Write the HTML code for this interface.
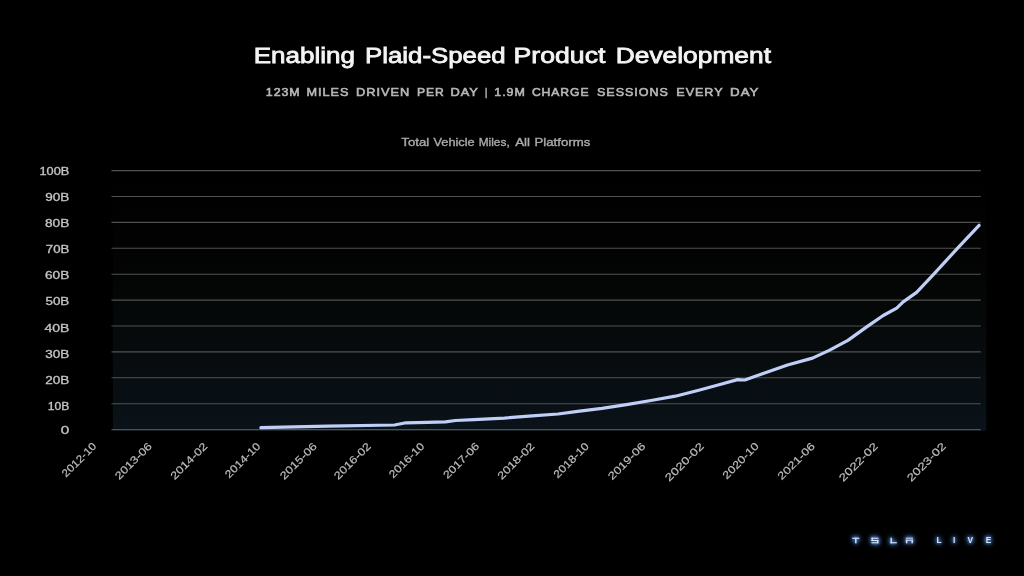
<!DOCTYPE html>
<html>
<head>
<meta charset="utf-8">
<title>Enabling Plaid-Speed Product Development</title>
<style>
  html, body { margin: 0; padding: 0; background: #000; }
  body { width: 1024px; height: 576px; overflow: hidden; font-family: "Liberation Sans", sans-serif; }
  svg { display: block; }
  text { font-family: "Liberation Sans", sans-serif; }
</style>
</head>
<body>
<svg width="1024" height="576" viewBox="0 0 1024 576">
  <defs>
    <linearGradient id="plotbg" x1="0" y1="0" x2="0" y2="1">
      <stop offset="0" stop-color="#000000"/>
      <stop offset="0.31" stop-color="#020302"/>
      <stop offset="0.5" stop-color="#040706"/>
      <stop offset="0.69" stop-color="#070b0d"/>
      <stop offset="0.88" stop-color="#080f14"/>
      <stop offset="1" stop-color="#0b131a"/>
    </linearGradient>
    <filter color-interpolation-filters="sRGB" id="soft" x="-5%" y="-5%" width="110%" height="110%">
      <feGaussianBlur stdDeviation="0.4"/>
    </filter>
    <filter color-interpolation-filters="sRGB" id="softl" x="-5%" y="-5%" width="110%" height="110%">
      <feGaussianBlur stdDeviation="0.32"/>
    </filter>
    <filter color-interpolation-filters="sRGB" id="softg" filterUnits="userSpaceOnUse" x="100" y="160" width="900" height="280">
      <feGaussianBlur stdDeviation="0.4"/>
    </filter>
  </defs>
  <rect x="0" y="0" width="1024" height="576" fill="#000"/>

  <!-- titles -->
  <g font-size="22.4" fill="#f4f4f4" stroke="#f4f4f4" stroke-width="0.8" letter-spacing="0" filter="url(#soft)">
    <text x="253.7" y="62.8" textLength="101.3" lengthAdjust="spacingAndGlyphs">Enabling</text>
    <text x="365.0" y="62.8" textLength="140.6" lengthAdjust="spacingAndGlyphs">Plaid-Speed</text>
    <text x="513.6" y="62.8" textLength="91.8" lengthAdjust="spacingAndGlyphs">Product</text>
    <text x="615.7" y="62.8" textLength="155.3" lengthAdjust="spacingAndGlyphs">Development</text>
  </g>
  <g font-size="11.8" fill="#b8b8b8" stroke="#b8b8b8" stroke-width="0.6" letter-spacing="0.9" filter="url(#soft)">
    <text x="265.8" y="95.8" textLength="34.8" lengthAdjust="spacingAndGlyphs">123M</text>
    <text x="306.5" y="95.8" textLength="42.9" lengthAdjust="spacingAndGlyphs">MILES</text>
    <text x="356.0" y="95.8" textLength="54.3" lengthAdjust="spacingAndGlyphs">DRIVEN</text>
    <text x="416.9" y="95.8" textLength="27.7" lengthAdjust="spacingAndGlyphs">PER</text>
    <text x="450.5" y="95.8" textLength="28.4" lengthAdjust="spacingAndGlyphs">DAY</text>
    <text x="485.1" y="95.8" textLength="3.0" lengthAdjust="spacingAndGlyphs">|</text>
    <text x="494.3" y="95.8" textLength="31.5" lengthAdjust="spacingAndGlyphs">1.9M</text>
    <text x="531.9" y="95.8" textLength="57.6" lengthAdjust="spacingAndGlyphs">CHARGE</text>
    <text x="597.0" y="95.8" textLength="71.8" lengthAdjust="spacingAndGlyphs">SESSIONS</text>
    <text x="676.3" y="95.8" textLength="47.2" lengthAdjust="spacingAndGlyphs">EVERY</text>
    <text x="730.1" y="95.8" textLength="29.4" lengthAdjust="spacingAndGlyphs">DAY</text>
  </g>
  <g font-size="11.0" fill="#ababab" stroke="#ababab" stroke-width="0.35" letter-spacing="0" filter="url(#soft)">
    <text x="401.3" y="146.4" textLength="27.9" lengthAdjust="spacingAndGlyphs">Total</text>
    <text x="433.5" y="146.4" textLength="41.2" lengthAdjust="spacingAndGlyphs">Vehicle</text>
    <text x="478.7" y="146.4" textLength="31.0" lengthAdjust="spacingAndGlyphs">Miles,</text>
    <text x="515.2" y="146.4" textLength="14.9" lengthAdjust="spacingAndGlyphs">All</text>
    <text x="534.5" y="146.4" textLength="55.8" lengthAdjust="spacingAndGlyphs">Platforms</text>
  </g>

  <!-- plot background -->
  <rect x="112.9" y="170" width="873.4" height="260.8" fill="url(#plotbg)"/>

  <!-- grid -->
  <g id="grid" stroke="#4e5353" stroke-width="1.1" filter="url(#softg)">
    <line x1="111.5" x2="980.8" y1="170.6" y2="170.6"/>
    <line x1="111.5" x2="980.8" y1="196.5" y2="196.5"/>
    <line x1="111.5" x2="980.8" y1="222.4" y2="222.4"/>
    <line x1="111.5" x2="980.8" y1="248.3" y2="248.3"/>
    <line x1="111.5" x2="980.8" y1="274.2" y2="274.2"/>
    <line x1="111.5" x2="980.8" y1="300.1" y2="300.1"/>
    <line x1="111.5" x2="980.8" y1="326.0" y2="326.0"/>
    <line x1="111.5" x2="980.8" y1="351.9" y2="351.9"/>
    <line x1="111.5" x2="980.8" y1="377.8" y2="377.8"/>
    <line x1="111.5" x2="980.8" y1="403.7" y2="403.7"/>
    <line x1="111.5" x2="980.8" y1="429.6" y2="429.6"/>
  </g>

  <!-- y labels -->
  <g id="ylab" font-size="10.1" fill="#c4c4c4" stroke="#c4c4c4" stroke-width="0.3" filter="url(#softl)">
    <text x="39.5" y="174.5" textLength="29.8" lengthAdjust="spacingAndGlyphs">100B</text>
    <text x="45.2" y="200.7" textLength="24.1" lengthAdjust="spacingAndGlyphs">90B</text>
    <text x="45.0" y="226.7" textLength="24.3" lengthAdjust="spacingAndGlyphs">80B</text>
    <text x="45.8" y="253.0" textLength="23.5" lengthAdjust="spacingAndGlyphs">70B</text>
    <text x="45.0" y="279.1" textLength="24.3" lengthAdjust="spacingAndGlyphs">60B</text>
    <text x="45.5" y="305.2" textLength="23.8" lengthAdjust="spacingAndGlyphs">50B</text>
    <text x="44.4" y="331.6" textLength="24.9" lengthAdjust="spacingAndGlyphs">40B</text>
    <text x="45.2" y="357.8" textLength="24.1" lengthAdjust="spacingAndGlyphs">30B</text>
    <text x="45.2" y="384.0" textLength="24.1" lengthAdjust="spacingAndGlyphs">20B</text>
    <text x="47.7" y="410.1" textLength="21.6" lengthAdjust="spacingAndGlyphs">10B</text>
    <text x="60.8" y="434.2" textLength="8.5" lengthAdjust="spacingAndGlyphs">0</text>
  </g>

  <!-- data line -->
  <polyline id="dline" filter="url(#softg)" fill="none" stroke="#bfcff7" stroke-width="3.2" stroke-linejoin="round" stroke-linecap="round"
    points="260.9,427.7 328,426.2 394.5,425.0 406,422.8 427,422.3 445.5,421.9 455.5,420.5 474,419.7 504.4,418.1 528.8,416.2 558.1,414 577.7,411.3 602,408.4 626.5,404.7 650.9,400.5 675.3,396.2 699.7,390 720.8,384.2 737.5,379.6 744.8,380 762.5,373.75 787.5,365 812.5,358.1 829.2,350.4 847.9,340.4 866.7,326.9 883.2,315.5 896.7,308.1 903.2,301.9 916.6,292.4 933.8,274.1 958.1,247.6 979.1,225.3"/>

  <!-- x labels -->
  <g id="xlab" font-size="10.6" fill="#bcbcbc" stroke="#bcbcbc" stroke-width="0.2" filter="url(#softl)">
    <text transform="translate(97,446.9) rotate(-45)" x="-43.7" y="0" textLength="43.7" lengthAdjust="spacingAndGlyphs">2012-10</text>
    <text transform="translate(152.5,446.9) rotate(-45)" x="-47.0" y="0" textLength="47.0" lengthAdjust="spacingAndGlyphs">2013-06</text>
    <text transform="translate(208,446.9) rotate(-45)" x="-47.0" y="0" textLength="47.0" lengthAdjust="spacingAndGlyphs">2014-02</text>
    <text transform="translate(261,446.9) rotate(-45)" x="-44.9" y="0" textLength="44.9" lengthAdjust="spacingAndGlyphs">2014-10</text>
    <text transform="translate(317.5,446.9) rotate(-45)" x="-47.0" y="0" textLength="47.0" lengthAdjust="spacingAndGlyphs">2015-06</text>
    <text transform="translate(371.5,446.9) rotate(-45)" x="-47.0" y="0" textLength="47.0" lengthAdjust="spacingAndGlyphs">2016-02</text>
    <text transform="translate(425,446.9) rotate(-45)" x="-44.9" y="0" textLength="44.9" lengthAdjust="spacingAndGlyphs">2016-10</text>
    <text transform="translate(480,446.9) rotate(-45)" x="-45.9" y="0" textLength="45.9" lengthAdjust="spacingAndGlyphs">2017-06</text>
    <text transform="translate(535,446.9) rotate(-45)" x="-47.0" y="0" textLength="47.0" lengthAdjust="spacingAndGlyphs">2018-02</text>
    <text transform="translate(589.5,446.9) rotate(-45)" x="-44.9" y="0" textLength="44.9" lengthAdjust="spacingAndGlyphs">2018-10</text>
    <text transform="translate(646,446.9) rotate(-45)" x="-47.7" y="0" textLength="47.7" lengthAdjust="spacingAndGlyphs">2019-06</text>
    <text transform="translate(704.5,446.9) rotate(-45)" x="-49.7" y="0" textLength="49.7" lengthAdjust="spacingAndGlyphs">2020-02</text>
    <text transform="translate(759.5,446.9) rotate(-45)" x="-46.4" y="0" textLength="46.4" lengthAdjust="spacingAndGlyphs">2020-10</text>
    <text transform="translate(815.5,446.9) rotate(-45)" x="-47.6" y="0" textLength="47.6" lengthAdjust="spacingAndGlyphs">2021-06</text>
    <text transform="translate(878.5,446.9) rotate(-45)" x="-49.9" y="0" textLength="49.9" lengthAdjust="spacingAndGlyphs">2022-02</text>
    <text transform="translate(946.5,446.9) rotate(-45)" x="-49.9" y="0" textLength="49.9" lengthAdjust="spacingAndGlyphs">2023-02</text>
  </g>

  <!-- TSLA LIVE logo -->
  <defs>
    <g id="logoshape" fill="#d2e2fb">
      <!-- T -->
      <rect x="852.3" y="537.7" width="7" height="1.15"/>
      <rect x="855.1" y="537.7" width="1.4" height="5.6"/>
      <!-- S -->
      <rect x="871.5" y="537.7" width="6.9" height="1.1"/>
      <rect x="871.5" y="537.7" width="1.4" height="3.3"/>
      <rect x="871.5" y="539.95" width="6.9" height="1.1"/>
      <rect x="877.0" y="539.95" width="1.4" height="3.3"/>
      <rect x="871.5" y="542.2" width="6.9" height="1.1"/>
      <!-- L -->
      <rect x="890.5" y="537.7" width="1.4" height="5.6"/>
      <rect x="890.5" y="542.15" width="6.3" height="1.15"/>
      <!-- A -->
      <rect x="905.9" y="537.7" width="7" height="1.0"/>
      <rect x="905.9" y="539.7" width="7" height="1.1"/>
      <rect x="905.9" y="539.7" width="1.4" height="3.6"/>
      <rect x="911.5" y="539.7" width="1.4" height="3.6"/>
      <!-- LIVE -->
      <g font-size="8.3" font-weight="bold" text-anchor="middle">
        <text x="939.0" y="543.35">L</text>
        <text x="954.2" y="543.35">I</text>
        <text x="970.3" y="543.35">V</text>
        <text x="988.6" y="543.35">E</text>
      </g>
    </g>
    <filter color-interpolation-filters="sRGB" id="glow1" filterUnits="userSpaceOnUse" x="830" y="520" width="190" height="45">
      <feGaussianBlur stdDeviation="2.7"/>
      <feColorMatrix type="matrix" values="0 0 0 0 0.15  0 0 0 0 0.27  0 0 0 0 0.44  0 0 0 5.0 0"/>
    </filter>
    <filter color-interpolation-filters="sRGB" id="glow2" filterUnits="userSpaceOnUse" x="830" y="520" width="190" height="45">
      <feGaussianBlur stdDeviation="1.0"/>
      <feColorMatrix type="matrix" values="0 0 0 0 0.30  0 0 0 0 0.46  0 0 0 0 0.68  0 0 0 0.9 0"/>
    </filter>
    <filter color-interpolation-filters="sRGB" id="glow3" filterUnits="userSpaceOnUse" x="830" y="520" width="190" height="45">
      <feGaussianBlur stdDeviation="0.45"/>
    </filter>
  </defs>
  <use href="#logoshape" filter="url(#glow1)"/>
  <use href="#logoshape" filter="url(#glow2)"/>
  <use href="#logoshape" filter="url(#glow3)"/>

</svg>
</body>
</html>
